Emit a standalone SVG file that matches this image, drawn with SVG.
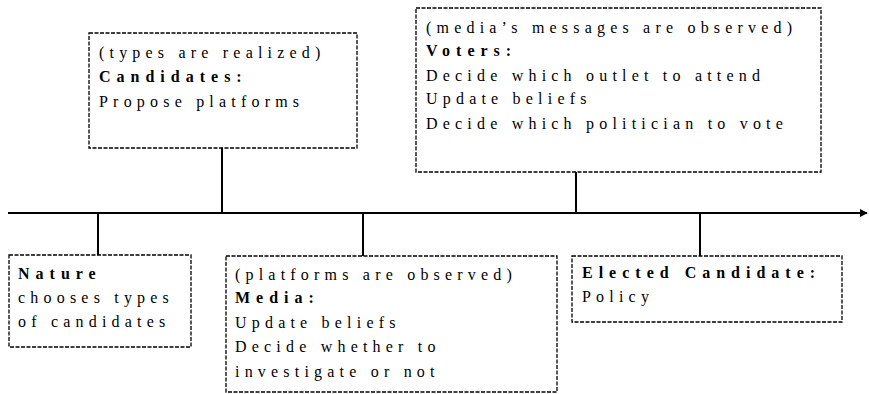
<svg xmlns="http://www.w3.org/2000/svg" width="869" height="394" viewBox="0 0 869 394">
<style>
.box{fill:#fff;stroke:#000;stroke-width:1.3;stroke-dasharray:4 1.5}
.t{font-family:'Liberation Serif','Times New Roman','DejaVu Serif',serif;font-size:16px;fill:#000;letter-spacing:5.2px}
.b{font-weight:bold;letter-spacing:6px}
.c{stroke:#000;stroke-width:2;fill:none}
</style>
<defs>
<marker id="ah" viewBox="0 0 10 10" refX="9" refY="5" markerWidth="4" markerHeight="4" orient="auto" markerUnits="strokeWidth">
<path d="M0,0 L10,5 L0,10 z" fill="#000"/>
</marker>
</defs>
<rect width="869" height="394" fill="#fff"/>
<g id="connectors">
<line class="c" x1="8" y1="213" x2="867" y2="213" marker-end="url(#ah)"/>
<line class="c" x1="222" y1="148" x2="222" y2="213"/>
<line class="c" x1="576" y1="172" x2="576" y2="213"/>
<line class="c" x1="98" y1="213" x2="98" y2="255"/>
<line class="c" x1="363" y1="213" x2="363" y2="256"/>
<line class="c" x1="700" y1="213" x2="700" y2="256"/>
</g>
<g id="candidates">
<rect class="box" x="89" y="33" width="268" height="115"/>
<text class="t" x="99" y="58">(types are realized)</text>
<text class="t b" x="99" y="82">Candidates:</text>
<text class="t" x="99" y="107">Propose platforms</text>
</g>
<g id="voters">
<rect class="box" x="416" y="8" width="405" height="164"/>
<text class="t" x="426" y="33">(media’s messages are observed)</text>
<text class="t b" x="426" y="56">Voters:</text>
<text class="t" x="426" y="81">Decide which outlet to attend</text>
<text class="t" x="426" y="104">Update beliefs</text>
<text class="t" x="426" y="129">Decide which politician to vote</text>
</g>
<g id="nature">
<rect class="box" x="9" y="255" width="182" height="92"/>
<text class="t b" x="18" y="279">Nature</text>
<text class="t" x="18" y="303">chooses types</text>
<text class="t" x="18" y="327">of candidates</text>
</g>
<g id="media">
<rect class="box" x="226" y="256" width="331" height="136"/>
<text class="t" x="235" y="280">(platforms are observed)</text>
<text class="t b" x="235" y="303">Media:</text>
<text class="t" x="235" y="328">Update beliefs</text>
<text class="t" x="235" y="352">Decide whether to</text>
<text class="t" x="235" y="377">investigate or not</text>
</g>
<g id="elected">
<rect class="box" x="572" y="256" width="270" height="66"/>
<text class="t b" x="582" y="278">Elected Candidate:</text>
<text class="t" x="582" y="302">Policy</text>
</g>
</svg>
